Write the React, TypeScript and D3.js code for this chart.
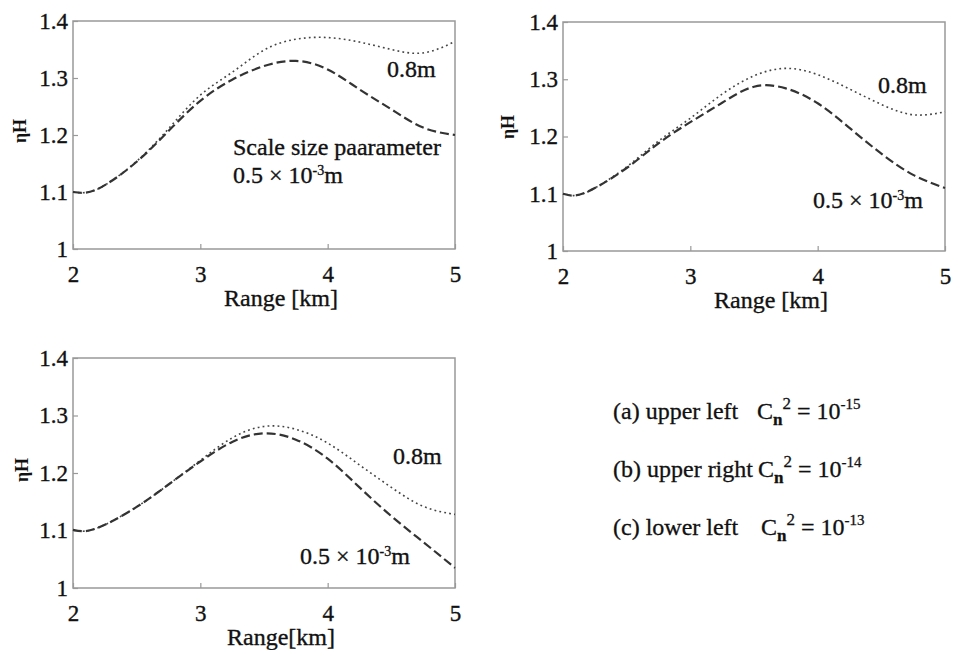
import React, { useEffect, useRef } from "react";
import * as d3 from "d3";

// range grid [km] shared by all curves
const rangeKm = [2, 2.1, 2.25, 2.5, 2.75, 3, 3.25, 3.5, 3.75, 4, 4.25, 4.5, 4.75, 5];

// (a) Cn^2 = 1e-15
const aSmall = [1.1, 1.099, 1.112, 1.153, 1.207, 1.26, 1.297, 1.321, 1.33, 1.315, 1.28, 1.245, 1.213, 1.2];
const aLarge = [1.1, 1.099, 1.112, 1.154, 1.211, 1.27, 1.31, 1.349, 1.368, 1.371, 1.363, 1.35, 1.344, 1.364];
// (b) Cn^2 = 1e-14
const bSmall = [1.1, 1.097, 1.11, 1.145, 1.188, 1.225, 1.259, 1.287, 1.284, 1.258, 1.215, 1.17, 1.133, 1.11];
const bLarge = [1.1, 1.097, 1.11, 1.147, 1.192, 1.232, 1.274, 1.306, 1.319, 1.308, 1.283, 1.256, 1.238, 1.243];
// (c) Cn^2 = 1e-13
const cSmall = [1.101, 1.099, 1.11, 1.141, 1.18, 1.22, 1.254, 1.269, 1.258, 1.225, 1.175, 1.125, 1.08, 1.035];
const cLarge = [1.101, 1.099, 1.11, 1.141, 1.18, 1.222, 1.261, 1.281, 1.276, 1.252, 1.214, 1.175, 1.142, 1.128];

const xTicks = [2, 3, 4, 5];
const yTicks = [1, 1.1, 1.2, 1.3, 1.4];

const legendRows = [
  { label: "(a) upper left", exp: "-15" },
  { label: "(b) upper right", exp: "-14" },
  { label: "(c) lower left", exp: "-13" },
];

const FONT = "'Liberation Serif', 'Times New Roman', serif";

const panels = [
  {
    left: 73, right: 455, top: 21, bottom: 249,
    small: aSmall, large: aLarge, title: "Range [km]",
    ylab: [20, 131],
    large08: [387, 77],
    smallLab: [233, 183],
    scaleText: [233, 155],
  },
  {
    left: 563, right: 945, top: 22, bottom: 251,
    small: bSmall, large: bLarge, title: "Range [km]",
    ylab: [508, 127],
    large08: [878, 93],
    smallLab: [813, 208],
    scaleText: null,
  },
  {
    left: 73, right: 455, top: 358, bottom: 588,
    small: cSmall, large: cLarge, title: "Range[km]",
    ylab: [22, 470],
    large08: [393, 464],
    smallLab: [300, 564],
    scaleText: null,
  },
];

const App = () => {
  const svgRef = useRef(null);

  useEffect(() => {
    const svg = d3.select(svgRef.current);
    svg.selectAll("*").remove();

    panels.forEach(p => {
      const x = d3.scaleLinear().domain([2, 5]).range([p.left, p.right]);
      const y = d3.scaleLinear().domain([1, 1.4]).range([p.bottom, p.top]);
      const g = svg.append("g");

      // frame
      g.append("rect")
        .attr("x", p.left).attr("y", p.top)
        .attr("width", p.right - p.left).attr("height", p.bottom - p.top)
        .attr("fill", "none").attr("stroke", "#999").attr("stroke-width", 1.5);

      // axes, ticks pointing inward
      const ax = g.append("g")
        .attr("transform", `translate(0,${p.bottom})`)
        .call(d3.axisBottom(x).tickValues(xTicks).tickSize(-5).tickPadding(17).tickFormat(d3.format("d")));
      const ay = g.append("g")
        .attr("transform", `translate(${p.left},0)`)
        .call(d3.axisLeft(y).tickValues(yTicks).tickSize(-5).tickPadding(5).tickFormat(d => (d === 1 ? "1" : d3.format(".1f")(d))));
      [ax, ay].forEach(a => {
        a.select(".domain").remove();
        a.selectAll("line").attr("stroke", "#999").attr("stroke-width", 1.2);
        a.selectAll("text")
          .attr("fill", "#111").attr("stroke", "#111").attr("stroke-width", 0.35)
          .style("font-family", FONT).style("font-size", "23px");
      });

      // axis titles
      g.append("text")
        .attr("x", (p.left + p.right) / 2 + 17).attr("y", p.bottom + 57)
        .attr("text-anchor", "middle")
        .style("font-family", FONT).style("font-size", "24px")
        .attr("fill", "#111").attr("stroke", "#111").attr("stroke-width", 0.35)
        .text(p.title);
      g.append("text")
        .attr("transform", `translate(${p.ylab[0]},${p.ylab[1]}) rotate(-90)`)
        .attr("text-anchor", "middle").attr("dy", "0.35em")
        .style("font-family", FONT).style("font-size", "18px").style("font-weight", "bold").attr("fill", "#111")
        .text("ηH");

      const line = d3.line<number>()
        .x((_, i) => x(rangeKm[i]))
        .y(d => y(d))
        .curve(d3.curveNatural);

      g.append("path")
        .attr("d", line(p.large))
        .attr("fill", "none").attr("stroke", "#444").attr("stroke-width", 1.6)
        .attr("stroke-dasharray", "1.8,3.2");
      g.append("path")
        .attr("d", line(p.small))
        .attr("fill", "none").attr("stroke", "#333").attr("stroke-width", 2.2)
        .attr("stroke-dasharray", "9,4");

      // curve labels
      const lab = pos =>
        g.append("text")
          .attr("x", pos[0]).attr("y", pos[1])
          .style("font-family", FONT).style("font-size", "24px")
          .attr("fill", "#111").attr("stroke", "#111").attr("stroke-width", 0.35);
      lab(p.large08).text("0.8m");
      const s = lab(p.smallLab);
      s.append("tspan").text("0.5 × 10");
      s.append("tspan").attr("dy", -8).style("font-size", "14px").text("-3");
      s.append("tspan").attr("dy", 8).text("m");
      if (p.scaleText) lab(p.scaleText).text("Scale size paarameter");
    });

    // legend
    legendRows.forEach((r, i) => {
      const yy = 419 + i * 58;
      svg.append("text")
        .attr("x", 613).attr("y", yy)
        .style("font-family", FONT).style("font-size", "24px")
        .attr("fill", "#111").attr("stroke", "#111").attr("stroke-width", 0.3)
        .text(r.label);
      const t = svg.append("text")
        .attr("x", i === 1 ? 758 : 757 + (i === 2 ? 4 : 0)).attr("y", yy)
        .style("font-family", FONT).style("font-size", "24px")
        .attr("fill", "#111").attr("stroke", "#111").attr("stroke-width", 0.3);
      t.append("tspan").text("C");
      t.append("tspan").attr("dy", 6).style("font-size", "17px").style("font-weight", "bold").text("n");
      t.append("tspan").attr("dy", -16).style("font-size", "17px").text("2");
      t.append("tspan").attr("dy", 10).text(" = 10");
      t.append("tspan").attr("dy", -10).style("font-size", "15px").text(r.exp);
    });
  }, []);

  return (
    <svg
      ref={svgRef}
      width={954}
      height={650}
      style={{ position: "absolute", left: 0, top: 0, background: "#fff" }}
    />
  );
};

export default App;
